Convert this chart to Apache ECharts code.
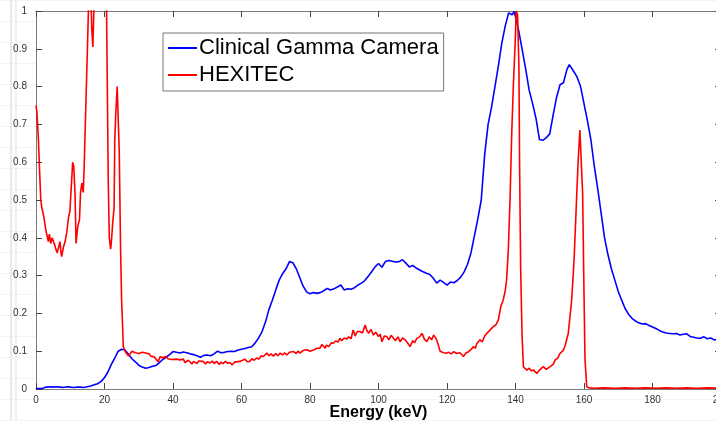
<!DOCTYPE html>
<html>
<head>
<meta charset="utf-8">
<script src="https://cdn.jsdelivr.net/npm/echarts@6/dist/echarts.min.js"></script>
<style>
  html, body {
    margin: 0;
    padding: 0;
    background-color: #ffffff;
  }
  body {
    background-image:
      linear-gradient(to right, transparent 10px, #e8e8ef 10px, #e8e8ef 12px, transparent 12px, transparent 15px, #f0f0f5 15px, #f0f0f5 17px, transparent 17px),
      repeating-linear-gradient(to bottom, #f3f4f8 0, #f3f4f8 1px, transparent 1px, transparent 21px);
  }
  #chart {
    width: 716px;
    height: 421px;
  }
</style>
</head>
<body>
<div id="chart"></div>
<script>
// Clinical Gamma Camera spectrum
const gammaEnergy = [
  0, 1, 2, 3, 4, 5, 6, 7, 8, 9, 10, 11, 12, 13, 14, 15, 16, 17, 18, 19,
  20, 21, 22, 23, 24, 25, 26, 27, 28, 29, 30, 31, 32, 33, 34, 35, 36, 37, 38, 39,
  40, 41, 42, 43, 44, 45, 46, 47, 48, 49, 50, 51, 52, 53, 54, 55, 56, 57, 58, 59,
  60, 61, 62, 63, 64, 65, 66, 67, 68, 69, 70, 71, 72, 73, 74, 75, 76, 77, 78, 79,
  80, 81, 82, 83, 84, 85, 86, 87, 88, 89, 90, 91, 92, 93, 94, 95, 96, 97, 98, 99,
  100, 101, 102, 103, 104, 105, 106, 107, 108, 109, 110, 111, 112, 113, 114, 115, 116, 117, 118, 119,
  120, 121, 122, 123, 124, 125, 126, 127, 128, 129, 130, 131, 132, 133, 134, 135, 136, 137, 138, 139,
  139.6, 140, 141, 142, 143, 144, 145, 146, 147, 148, 149, 150, 151, 152, 153, 154, 155, 155.7, 157, 158,
  159, 160, 161, 162, 163, 164, 165, 166, 167, 168, 169, 170, 171, 172, 173, 174, 175, 176, 177, 178,
  179, 180, 181, 182, 183, 184, 185, 186, 187, 188, 189, 190, 191, 192, 193, 194, 195, 196, 197, 198,
  199, 200
];
const gammaCounts = [
  0.001, 0.001, 0.002, 0.005, 0.006, 0.005, 0.006, 0.005, 0.004, 0.006, 0.005, 0.004, 0.005, 0.005, 0.004, 0.006, 0.008, 0.011, 0.014, 0.02,
  0.03, 0.045, 0.065, 0.082, 0.1, 0.105, 0.103, 0.092, 0.08, 0.072, 0.063, 0.058, 0.055, 0.057, 0.06, 0.062, 0.07, 0.078, 0.084, 0.091,
  0.099, 0.097, 0.095, 0.098, 0.096, 0.093, 0.091, 0.088, 0.084, 0.089, 0.09, 0.088, 0.093, 0.1, 0.096, 0.097, 0.099, 0.1, 0.099, 0.103,
  0.105, 0.107, 0.11, 0.112, 0.122, 0.135, 0.152, 0.177, 0.21, 0.235, 0.262, 0.288, 0.305, 0.318, 0.337, 0.334, 0.318, 0.295, 0.272, 0.257,
  0.252, 0.255, 0.253, 0.255, 0.26, 0.266, 0.262, 0.265, 0.27, 0.275, 0.262, 0.265, 0.264, 0.268, 0.275, 0.28, 0.287, 0.298, 0.31, 0.323,
  0.332, 0.322, 0.337, 0.34, 0.338, 0.336, 0.337, 0.342, 0.333, 0.323, 0.327, 0.32, 0.315, 0.31, 0.306, 0.303, 0.293, 0.28, 0.288, 0.282,
  0.275, 0.283, 0.281, 0.287, 0.296, 0.31, 0.33, 0.36, 0.405, 0.45, 0.5, 0.62, 0.7, 0.745, 0.8, 0.855, 0.915, 0.96, 0.995, 0.99,
  0.998, 0.985, 0.945, 0.895, 0.845, 0.79, 0.755, 0.715, 0.66, 0.658, 0.665, 0.675, 0.725, 0.772, 0.805, 0.81, 0.845, 0.858, 0.84, 0.825,
  0.8, 0.755, 0.71, 0.66, 0.59, 0.53, 0.465, 0.4, 0.355, 0.318, 0.288, 0.258, 0.235, 0.213, 0.198, 0.187, 0.18, 0.175, 0.172, 0.173,
  0.168, 0.164, 0.16, 0.155, 0.151, 0.148, 0.147, 0.146, 0.147, 0.143, 0.145, 0.146, 0.139, 0.137, 0.135, 0.134, 0.138, 0.133, 0.135, 0.13,
  0.132, 0.128
];

// HEXITEC spectrum (values above 1 are clipped by the axis, as in the original)
const hexEnergy = [
  0, 0.3, 0.7, 1.0, 1.4, 1.7, 2.3, 2.7, 3.1, 3.6, 3.9, 4.3, 4.7, 5.1, 5.5, 5.8, 6.2, 6.5, 7.0, 7.3,
  7.5, 8.0, 8.5, 9.0, 9.5, 9.9, 10.2, 10.4, 10.7, 11.0, 11.1, 11.4, 11.7, 12.2, 12.7, 13.0, 13.4, 13.8, 14.1, 14.6,
  15.0, 15.3, 15.6, 16.0, 16.3, 16.6, 16.9, 17.3, 18, 19, 20, 20.6, 20.8, 21.1, 21.4, 21.8, 22.1, 22.4, 22.8, 23.0,
  23.3, 23.7, 24.0, 24.3, 24.7, 25.0, 25.5, 26, 26.4, 27, 27.4, 28, 28.4, 29, 29.5, 30, 30.4, 31, 31.5, 32,
  32.5, 33, 33.5, 34, 34.5, 35, 35.7, 36.2, 36.6, 37, 37.5, 38, 38.5, 39, 39.5, 40, 41, 41.5, 42, 42.5,
  43, 43.5, 44, 44.5, 45, 45.5, 46, 46.5, 47, 47.5, 48, 48.8, 49.5, 50, 50.8, 51.5, 52, 52.7, 53.5, 54,
  54.6, 55.3, 56, 56.6, 57.3, 58, 58.5, 59.5, 60, 61, 61.7, 62.4, 63, 63.7, 64.4, 65, 65.7, 66.4, 67.4, 68,
  68.6, 69.3, 70, 70.6, 71.3, 72, 72.6, 73.2, 74, 74.5, 75.2, 76, 76.5, 77.1, 78, 78.5, 79.1, 80, 80.5, 81.2,
  82, 82.9, 83.5, 83.9, 84.4, 84.8, 85.5, 86.2, 86.8, 87.5, 88.2, 88.7, 89.3, 90, 90.7, 91.3, 92, 92.6, 93.2, 93.8,
  94.6, 95.3, 96.1, 96.6, 97.1, 97.8, 98.5, 99.2, 100, 100.5, 101, 101.7, 102.4, 103, 103.7, 104.4, 105, 105.7, 106.3, 107,
  107.8, 108.5, 109.2, 110, 110.5, 111.2, 112, 112.7, 113.4, 114.1, 114.8, 115.5, 116.1, 116.6, 117, 117.5, 118, 119, 119.9, 120.5,
  121.2, 122, 122.8, 123.8, 124.3, 124.8, 125.5, 126.2, 126.7, 127.2, 127.7, 128.3, 128.7, 129.2, 129.6, 130.3, 131, 131.6, 132.5, 133.5,
  134.3, 135, 135.7, 136.4, 137, 137.4, 137.9, 138.4, 138.9, 139.4, 139.9, 140.2, 140.6, 141, 141.2, 141.5, 141.9, 142.3, 143.3, 144,
  144.7, 145.3, 146.2, 147, 148.1, 149, 150.1, 151, 151.6, 152.3, 153, 154, 154.5, 155.4, 156.4, 157.1, 157.7, 158.3, 158.8, 159.2,
  159.6, 160, 160.3, 160.8, 161.5, 163, 166, 169, 172, 175, 178, 181, 184, 187, 190, 193, 196, 200
];
const hexCounts = [
  0.75, 0.73, 0.66, 0.587, 0.5, 0.48, 0.455, 0.43, 0.41, 0.39, 0.41, 0.385, 0.4, 0.395, 0.38, 0.37, 0.36, 0.355, 0.39, 0.36,
  0.35, 0.375, 0.39, 0.415, 0.455, 0.47, 0.52, 0.55, 0.6, 0.59, 0.575, 0.515, 0.385, 0.43, 0.448, 0.52, 0.545, 0.52, 0.6, 0.765,
  0.897, 1.0, 1.1, 1.05, 0.95, 0.905, 1.0, 1.15, 1.3, 1.3, 1.2, 1.0, 0.82, 0.55, 0.4, 0.37, 0.4, 0.44, 0.48, 0.66,
  0.73, 0.8, 0.805, 0.632, 0.367, 0.235, 0.112, 0.1, 0.095, 0.087, 0.09, 0.1, 0.104, 0.096, 0.1, 0.094, 0.09, 0.097, 0.092, 0.095,
  0.09, 0.093, 0.087, 0.092, 0.085, 0.088, 0.072, 0.085, 0.09, 0.083, 0.088, 0.086, 0.08, 0.084, 0.078, 0.082, 0.079, 0.083, 0.077, 0.074,
  0.079, 0.07, 0.069, 0.076, 0.072, 0.066, 0.073, 0.068, 0.067, 0.074, 0.07, 0.073, 0.066, 0.072, 0.069, 0.074, 0.067, 0.073, 0.065, 0.071,
  0.067, 0.073, 0.068, 0.07, 0.064, 0.071, 0.067, 0.073, 0.077, 0.079, 0.072, 0.073, 0.08, 0.076, 0.082, 0.079, 0.087, 0.086, 0.095, 0.088,
  0.093, 0.087, 0.094, 0.088, 0.095, 0.09, 0.096, 0.09, 0.097, 0.093, 0.099, 0.094, 0.1, 0.095, 0.102, 0.098, 0.104, 0.1, 0.095, 0.104,
  0.108, 0.108, 0.118, 0.121, 0.108, 0.116, 0.112, 0.122, 0.121, 0.127, 0.124, 0.134, 0.128, 0.135, 0.132, 0.138, 0.133, 0.156, 0.14, 0.152,
  0.152, 0.148, 0.169, 0.155, 0.147, 0.158, 0.143, 0.15, 0.139, 0.145, 0.125, 0.14, 0.139, 0.13, 0.142, 0.134, 0.128, 0.138, 0.125, 0.135,
  0.13, 0.122, 0.112, 0.128, 0.122, 0.134, 0.138, 0.147, 0.132, 0.125, 0.138, 0.13, 0.143, 0.14, 0.13, 0.115, 0.1, 0.096, 0.095, 0.097,
  0.093, 0.099, 0.094, 0.096, 0.094, 0.086, 0.095, 0.098, 0.1, 0.106, 0.112, 0.108, 0.12, 0.115, 0.13, 0.125, 0.14, 0.147, 0.155, 0.165,
  0.17, 0.183, 0.218, 0.235, 0.26, 0.288, 0.368, 0.5, 0.676, 0.808, 0.915, 1.0, 0.99, 0.853, 0.588, 0.323, 0.147, 0.059, 0.05, 0.055,
  0.048, 0.05, 0.041, 0.05, 0.059, 0.052, 0.059, 0.065, 0.077, 0.082, 0.094, 0.103, 0.115, 0.147, 0.235, 0.341, 0.474, 0.606, 0.685, 0.68,
  0.518, 0.253, 0.077, 0.006, 0.003, 0.002, 0.003, 0.002, 0.003, 0.002, 0.003, 0.002, 0.003, 0.002, 0.003, 0.002, 0.003, 0.002
];

const X_TICKS = { min: 0, max: 200, interval: 20 };
const Y_TICKS = { min: 0, max: 1, interval: 0.1 };

const AXIS_COLOR = "#7a7a7a";
const LABEL_COLOR = "#333333";

function pairs(xs, ys) {
  return xs.map((x, i) => [x, ys[i]]);
}

const chart = echarts.init(document.getElementById("chart"), null, { renderer: "canvas" });

const boxAxis = {
  min: 0,
  axisLine: { show: true, onZero: false, lineStyle: { color: AXIS_COLOR, width: 1 } },
  axisTick: { show: true, inside: true, length: 6, lineStyle: { color: "#444444" } },
  splitLine: { show: false },
};

chart.setOption({
  animation: false,
  textStyle: { fontFamily: "Liberation Sans, Arial, sans-serif" },
  grid: {
    left: 36,
    right: -5,
    top: 11,
    bottom: 32,
    containLabel: false,
    outerBoundsMode: "none",
    show: true,
    backgroundColor: "#ffffff",
    borderWidth: 0,
  },
  legend: {
    orient: "vertical",
    left: 163,
    top: 33,
    padding: [4, 5, 5, 5],
    itemGap: 5,
    itemWidth: 29,
    itemHeight: 2,
    icon: "rect",
    backgroundColor: "#ffffff",
    borderColor: "#777777",
    borderWidth: 1,
    borderRadius: 0,
    textStyle: {
      fontFamily: "Liberation Sans, Arial, sans-serif",
      fontSize: 22,
      color: "#000000",
      padding: [0, 0, 0, -3],
    },
    data: ["Clinical Gamma Camera", "HEXITEC"],
  },
  xAxis: [
    {
      ...boxAxis,
      type: "value",
      max: X_TICKS.max,
      interval: X_TICKS.interval,
      position: "bottom",
      name: "Energy (keV)",
      nameLocation: "middle",
      nameGap: 16,
      nameMoveOverlap: false,
      nameTextStyle: {
        fontFamily: "Liberation Sans, Arial, sans-serif",
        fontSize: 16,
        fontWeight: "bold",
        color: "#000000",
      },
      axisLabel: { color: LABEL_COLOR, fontSize: 10, margin: 6 },
    },
    {
      ...boxAxis,
      type: "value",
      max: X_TICKS.max,
      interval: X_TICKS.interval,
      position: "top",
      axisLabel: { show: false },
    },
  ],
  yAxis: [
    {
      ...boxAxis,
      type: "value",
      max: Y_TICKS.max,
      interval: Y_TICKS.interval,
      position: "left",
      axisLabel: { color: LABEL_COLOR, fontSize: 10, margin: 9 },
    },
    {
      ...boxAxis,
      type: "value",
      max: Y_TICKS.max,
      interval: Y_TICKS.interval,
      position: "right",
      axisLabel: { show: false },
    },
  ],
  series: [
    {
      name: "Clinical Gamma Camera",
      type: "line",
      data: pairs(gammaEnergy, gammaCounts),
      symbol: "none",
      color: "#0000ff",
      lineStyle: { width: 1.6, color: "#0000ff" },
      clip: true,
    },
    {
      name: "HEXITEC",
      type: "line",
      data: pairs(hexEnergy, hexCounts),
      symbol: "none",
      color: "#ff0000",
      lineStyle: { width: 1.6, color: "#ff0000" },
      clip: true,
    },
  ],
});
</script>
</body>
</html>
